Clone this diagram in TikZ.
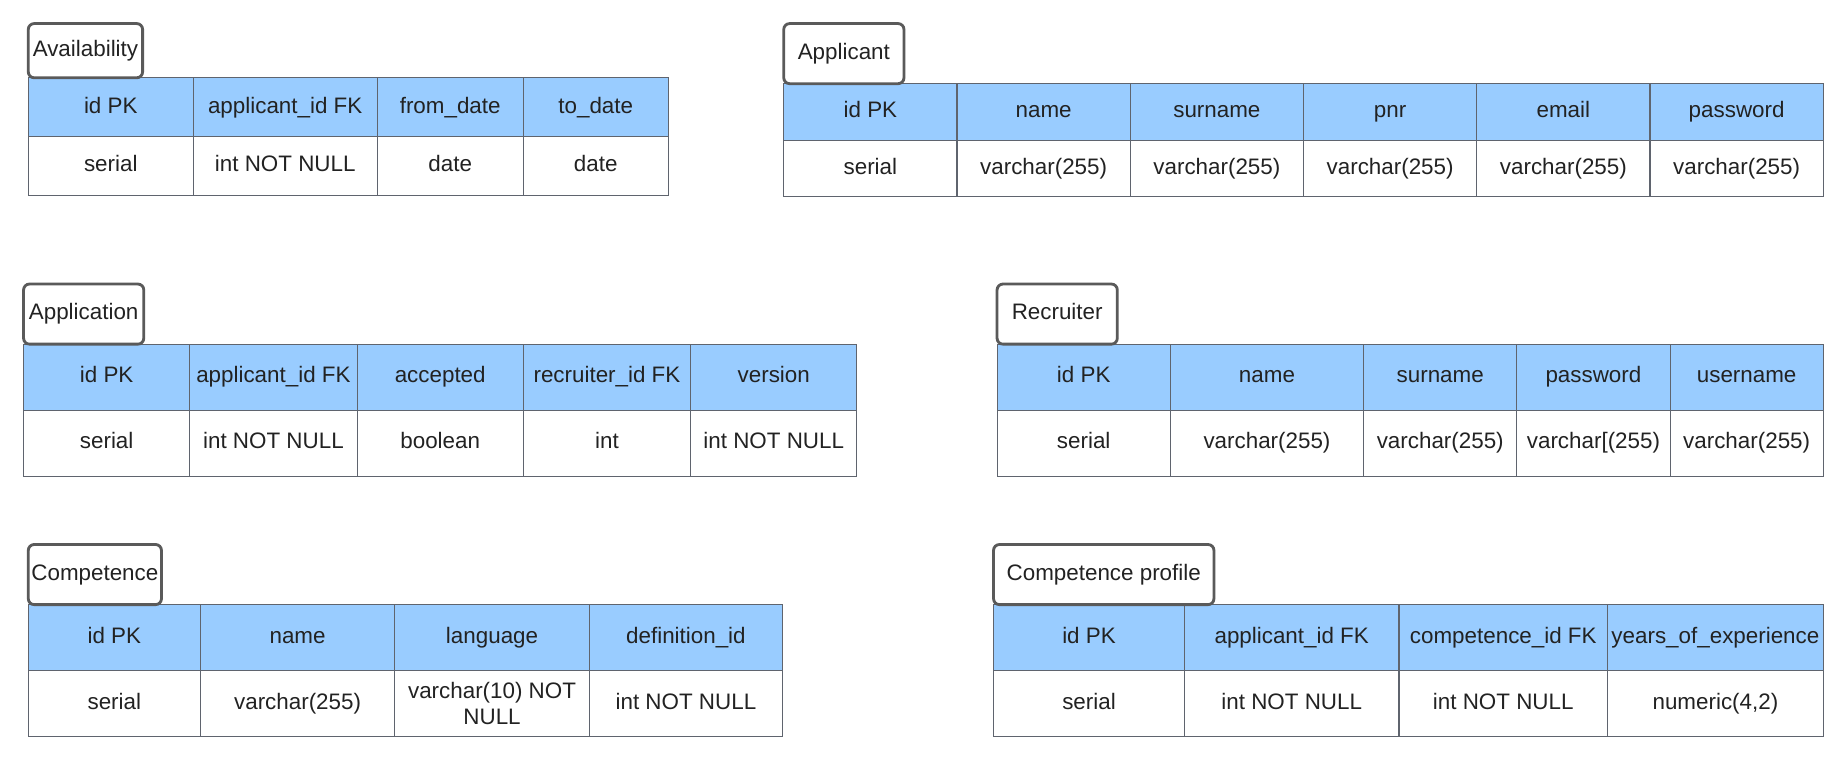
\documentclass[tikz,border=0pt]{standalone}
\usepackage{fontspec}
\setmainfont{Liberation Sans}
\definecolor{hdrblue}{RGB}{153,204,255}
\definecolor{gridc}{RGB}{95,100,110}
\definecolor{ttlc}{RGB}{90,90,90}
\definecolor{txtc}{RGB}{34,34,34}
\tikzset{
  cellbase/.style={draw=gridc, line width=0.9pt, inner sep=0pt, text=txtc,
    font=\fontsize{19}{22}\selectfont, align=center},
  hcell/.style={cellbase, fill=hdrblue},
  dcell/.style={cellbase, fill=white},
  ttl/.style={draw=ttlc, line width=2.4pt, rounded corners=5pt, fill=white,
    text=txtc, font=\fontsize{19}{22}\selectfont, inner sep=0pt}
}
% name, x1, x2, ytop, ymid, ybot, header, data
\newcommand\tcol[8]{%
  \node[hcell, minimum width={#3-#2}, minimum height={#5-#4}] (#1h)
    at ({(#2+#3)/2},{(#4+#5)/2}) {\vphantom{(Ay}#7};
  \node[dcell, minimum width={#3-#2}, minimum height={#6-#5}] (#1d)
    at ({(#2+#3)/2},{(#5+#6)/2}) {\vphantom{(Ay}#8};
}
% name, x1, x2, ytop, ybot, text
\newcommand\ttlbox[6]{%
  \node[ttl, minimum width={#3-#2}, minimum height={#5-#4}] (#1)
    at ({(#2+#3)/2},{(#4+#5)/2}) {\vphantom{(Ay}#6};
}
\begin{document}
\begin{tikzpicture}[x=1pt,y=-1pt]
\useasboundingbox[fill=white] (0,0) rectangle (1568,655);
% Availability
\tcol{avA}{24}{164}{66}{116}{166}{id PK}{serial}
\tcol{avB}{164}{320}{66}{116}{166}{applicant\_id FK}{int NOT NULL}
\tcol{avC}{320}{444}{66}{116}{166}{from\_date}{date}
\tcol{avD}{444}{567}{66}{116}{166}{to\_date}{date}
\ttlbox{avT}{24}{121}{20}{66}{Availability}
% Applicant
\tcol{apA}{665}{812}{71}{119}{167}{id PK}{serial}
\tcol{apB}{812}{959}{71}{119}{167}{name}{varchar(255)}
\tcol{apC}{959}{1106}{71}{119}{167}{surname}{varchar(255)}
\tcol{apD}{1106}{1253}{71}{119}{167}{pnr}{varchar(255)}
\tcol{apE}{1253}{1400}{71}{119}{167}{email}{varchar(255)}
\tcol{apF}{1400}{1547}{71}{119}{167}{password}{varchar(255)}
\ttlbox{apT}{665}{767}{20}{71}{Applicant}
% Application
\tcol{anA}{20}{161}{292}{348}{404}{id PK}{serial}
\tcol{anB}{161}{303}{292}{348}{404}{applicant\_id FK}{int NOT NULL}
\tcol{anC}{303}{444}{292}{348}{404}{accepted}{boolean}
\tcol{anD}{444}{586}{292}{348}{404}{recruiter\_id FK}{int}
\tcol{anE}{586}{727}{292}{348}{404}{version}{int NOT NULL}
\ttlbox{anT}{20}{122}{241}{292}{Application}
% Recruiter
\tcol{reA}{846}{993}{292}{348}{404}{id PK}{serial}
\tcol{reB}{993}{1157}{292}{348}{404}{name}{varchar(255)}
\tcol{reC}{1157}{1287}{292}{348}{404}{surname}{varchar(255)}
\tcol{reD}{1287}{1417}{292}{348}{404}{password}{varchar[(255)}
\tcol{reE}{1417}{1547}{292}{348}{404}{username}{varchar(255)}
\ttlbox{reT}{846}{948}{241}{292}{Recruiter}
% Competence
\tcol{coA}{24}{170}{513}{569}{625}{id PK}{serial}
\tcol{coB}{170}{335}{513}{569}{625}{name}{varchar(255)}
\tcol{coC}{335}{500}{513}{569}{625}{language}{varchar(10) NOT\\NULL}
\tcol{coD}{500}{664}{513}{569}{625}{definition\_id}{int NOT NULL}
\ttlbox{coT}{24}{137}{462}{513}{Competence}
% Competence profile
\tcol{cpA}{843}{1005}{513}{569}{625}{id PK}{serial}
\tcol{cpB}{1005}{1187}{513}{569}{625}{applicant\_id FK}{int NOT NULL}
\tcol{cpC}{1187}{1364}{513}{569}{625}{competence\_id FK}{int NOT NULL}
\tcol{cpD}{1364}{1547}{513}{569}{625}{years\_of\_experience}{numeric(4,2)}
\ttlbox{cpT}{843}{1030}{462}{513}{Competence profile}
\end{tikzpicture}
\end{document}
